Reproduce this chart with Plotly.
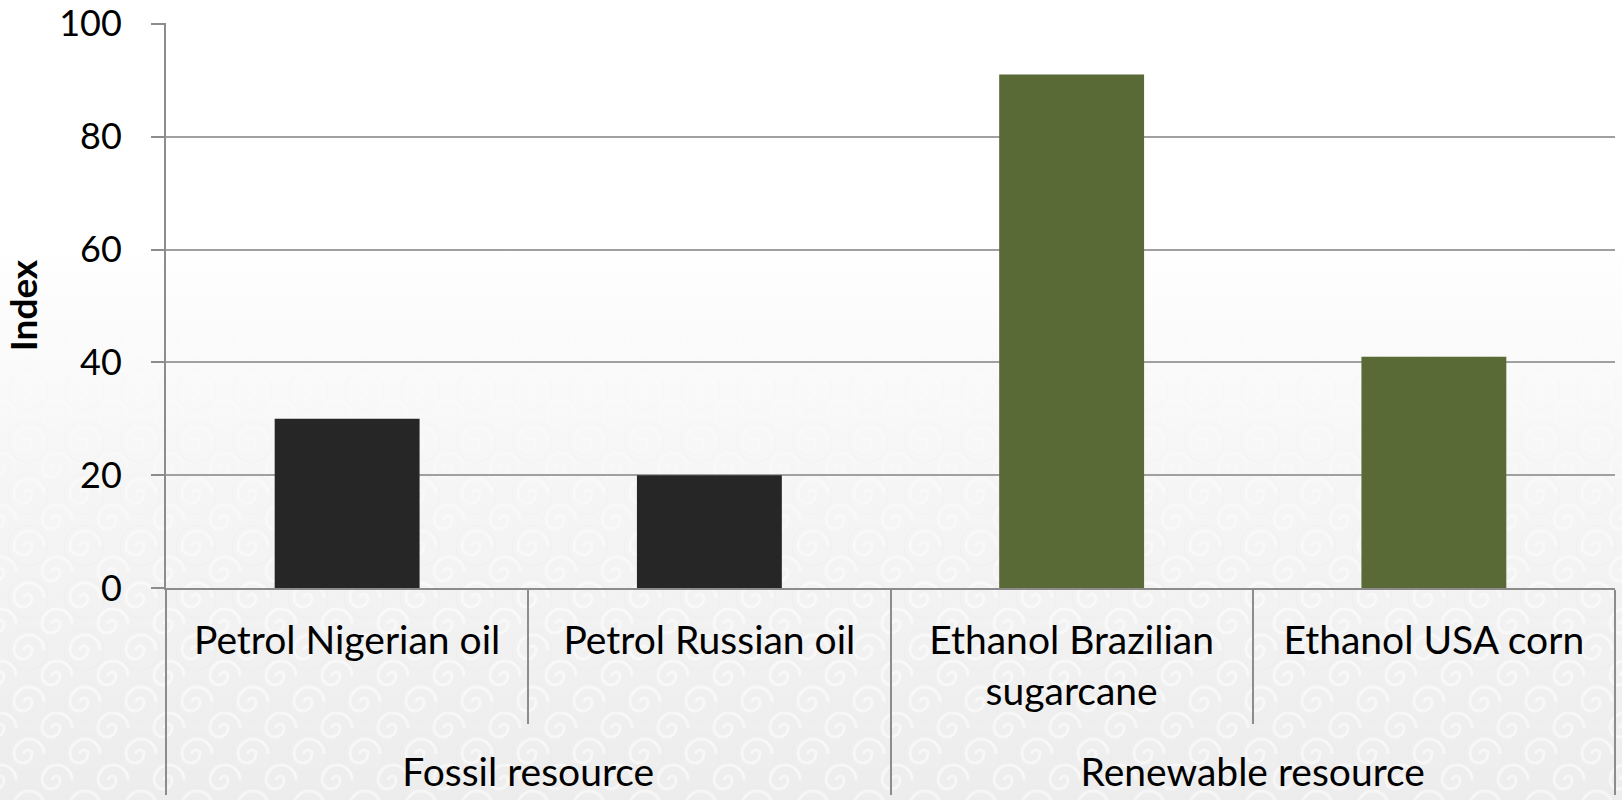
import base64
import plotly.graph_objects as go

# ---- data ----
groups = ["Fossil resource", "Fossil resource", "Renewable resource", "Renewable resource"]
categories = ["Petrol Nigerian oil", "Petrol Russian oil", "Ethanol Brazilian<br>sugarcane", "Ethanol USA corn"]
values = [30, 20, 91, 41]
bar_colors = ["#262626", "#262626", "#596A36", "#596A36"]
y_ticks = [0, 20, 40, 60, 80, 100]

W, H = 1622, 800
ML, MR, MT, MB = 166, 7, 23, 212
PW, PH = W - ML - MR, H - MT - MB

# ---- background (gradient + faint swirl texture) ----
swirl = "m-4 0 a4 4 0 1 1 8 0 a9 9 0 1 1 -18 0 a15 15 0 1 1 30 0"
centers = [(28, 26), (0, 0), (56, 0), (0, 52), (56, 52)]
paths = "".join(
    f'<path d="M{cx} {cy} {swirl}" fill="none" stroke="#ffffff" stroke-width="3" opacity="0.5"/>'
    for cx, cy in centers
)
svg = f'''<svg xmlns="http://www.w3.org/2000/svg" width="{W}" height="{H}" viewBox="0 0 {W} {H}">
<defs>
<linearGradient id="g" x1="0" y1="0" x2="0" y2="1">
<stop offset="0" stop-color="#ffffff"/>
<stop offset="0.30" stop-color="#ffffff"/>
<stop offset="0.55" stop-color="#f7f7f7"/>
<stop offset="0.80" stop-color="#f1f1f1"/>
<stop offset="1" stop-color="#ededed"/>
</linearGradient>
<linearGradient id="mg" x1="0" y1="0" x2="0" y2="1">
<stop offset="0" stop-color="#000"/>
<stop offset="0.34" stop-color="#000"/>
<stop offset="0.75" stop-color="#fff"/>
<stop offset="1" stop-color="#fff"/>
</linearGradient>
<mask id="m"><rect width="{W}" height="{H}" fill="url(#mg)"/></mask>
<pattern id="p" width="56" height="52" patternUnits="userSpaceOnUse">
{paths}
<circle cx="28" cy="26" r="20" fill="none" stroke="#e6e6e6" stroke-width="1" opacity="0.35"/>
</pattern>
</defs>
<rect width="{W}" height="{H}" fill="url(#g)"/>
<rect width="{W}" height="{H}" fill="url(#p)" mask="url(#m)"/>
</svg>'''
bg_src = "data:image/svg+xml;base64," + base64.b64encode(svg.encode()).decode()

FONT = "Lato"

fig = go.Figure(
    go.Bar(
        x=[["<br>" + g for g in groups], categories],
        y=values,
        marker=dict(color=bar_colors, line=dict(width=0)),
        hoverinfo="skip",
    )
)

fig.update_layout(
    width=W, height=H,
    margin=dict(l=ML, r=MR, t=MT, b=MB, pad=0),
    paper_bgcolor="#ffffff",
    plot_bgcolor="rgba(0,0,0,0)",
    bargap=0.6,
    showlegend=False,
    font=dict(family=FONT, size=36, color="#000000"),
    images=[dict(
        source=bg_src, xref="paper", yref="paper",
        x=-ML / PW, y=1 + MT / PH, sizex=W / PW, sizey=H / PH,
        xanchor="left", yanchor="top", sizing="stretch", layer="below",
    )],
)

fig.update_xaxes(
    type="multicategory",
    automargin=False,
    showline=True, linecolor="#8c8c8c", linewidth=2,
    ticks="outside", tickson="boundaries", ticklen=134, tickwidth=2, tickcolor="#8c8c8c",
    showdividers=True, dividercolor="#8c8c8c", dividerwidth=2,
    showgrid=False,
    ticklabelstandoff=17,
    tickfont=dict(family=FONT, size=39, color="#000000"),
)

fig.update_yaxes(
    automargin=False,
    range=[0, 100.15],
    tickvals=y_ticks,
    showline=True, linecolor="#8c8c8c", linewidth=2,
    ticks="outside", ticklen=13, tickwidth=2, tickcolor="#8c8c8c",
    showgrid=True, gridcolor="#a0a0a0", gridwidth=2,
    zeroline=False,
    ticklabelstandoff=22,
    tickfont=dict(family=FONT, size=36, color="#000000"),
    title=dict(text="<b>Index</b>", font=dict(family=FONT, size=37, color="#000000"), standoff=25),
)

fig.write_html("out.html")
